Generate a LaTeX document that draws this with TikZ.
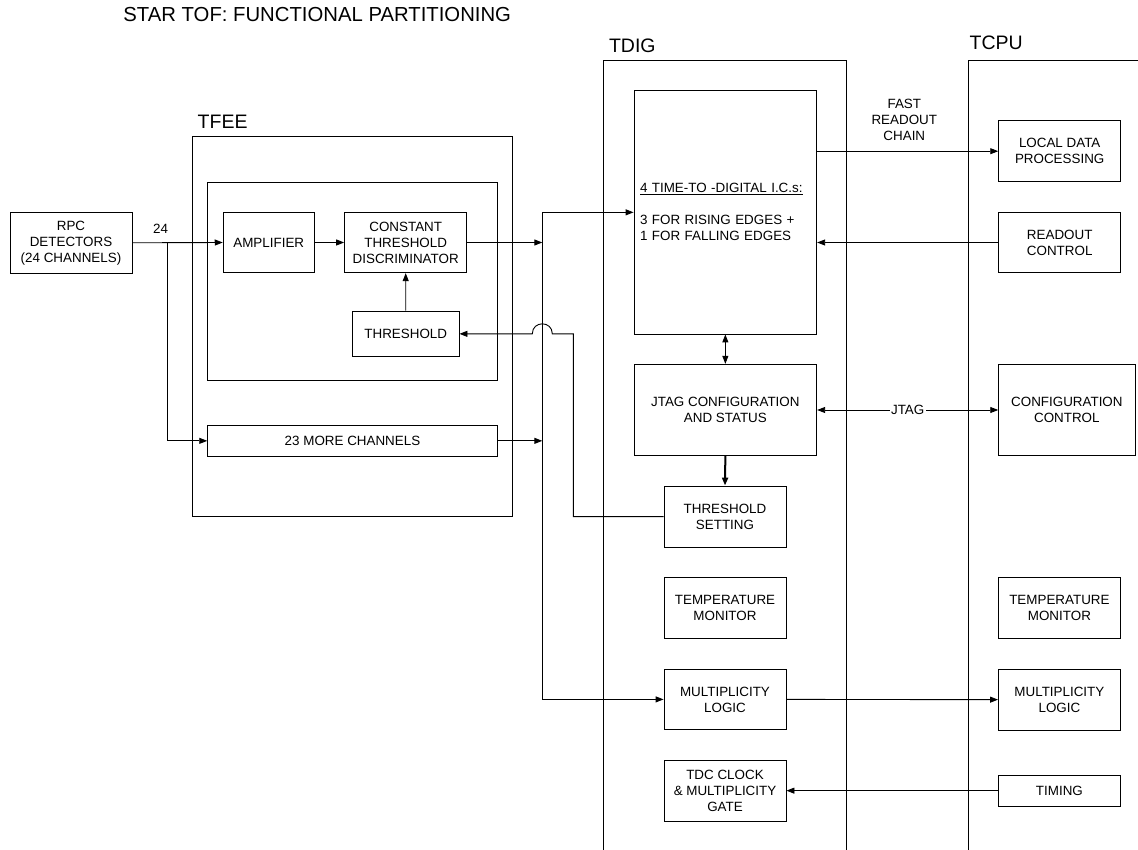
\documentclass[tikz,border=0pt]{standalone}
\usepackage{fontspec}
\setmainfont{Liberation Sans}
\usetikzlibrary{arrows.meta}
\begin{document}
\begin{tikzpicture}[x=1pt,y=-1pt,
  box/.style={draw, line width=0.9pt, inner sep=0pt, align=center, font=\fontsize{13.4}{16}\selectfont},
  conn/.style={line width=0.9pt},
  arr/.style={conn, -{Triangle[length=8pt,width=6pt]}},
  darr/.style={conn, {Triangle[length=8pt,width=6pt]}-{Triangle[length=8pt,width=6pt]}},
  grp/.style={draw, line width=0.9pt},
  big/.style={font=\fontsize{19.5}{22}\selectfont, anchor=west, inner sep=0pt},
  txt/.style={font=\fontsize{13.4}{16}\selectfont, align=center, inner sep=0pt},
]
\useasboundingbox (0,0) rectangle (1138,850);

% titles
\node[big, font=\fontsize{20.3}{23}\selectfont] (title) at (123.2,15) {STAR TOF: FUNCTIONAL PARTITIONING};
\node[big] (tfeelbl) at (197.5,122) {TFEE};
\node[big] (tdiglbl) at (608.8,46) {TDIG};
\node[big] (tcpulbl) at (969.5,42.5) {TCPU};

% group frames
\draw[grp] (192.7,136) rectangle (512.3,516.7);
\draw[grp] (207.9,182) rectangle (497.2,380);
\draw[grp] (603.5,851) -- (603.5,60) -- (846.3,60) -- (846.3,851);
\draw[grp] (968.3,851) -- (968.3,60) -- (1139,60);

% TFEE side
\node[box, minimum width=122pt, minimum height=61pt] (rpc) at (71,242.8) {RPC\\DETECTORS\\(24 CHANNELS)};
\node[box, minimum width=91.1pt, minimum height=60.4pt] (amp) at (268.75,242.5) {AMPLIFIER};
\node[box, minimum width=122.2pt, minimum height=60.4pt] (ctd) at (405.7,242.5) {CONSTANT\\THRESHOLD\\DISCRIMINATOR};
\node[box, minimum width=106.5pt, minimum height=45.7pt] (thr) at (405.75,333.85) {THRESHOLD};
\node[box, minimum width=289.6pt, minimum height=30.3pt] (more) at (352.5,440.85) {23 MORE CHANNELS};

% TDIG
\node[box, minimum width=182.7pt, minimum height=243.3pt, text width=170.7pt, inner xsep=6pt, align=left] (tdc) at (725.35,212.35)
  {\underline{4 TIME-TO -DIGITAL I.C.s:}\\[16pt]3 FOR RISING EDGES +\\1 FOR FALLING EDGES};
\node[box, minimum width=182.7pt, minimum height=91.4pt] (jtag) at (725.35,410) {JTAG CONFIGURATION\\AND STATUS};
\node[box, minimum width=122pt, minimum height=61.3pt] (ts) at (725,516.65) {THRESHOLD\\SETTING};
\node[box, minimum width=122pt, minimum height=61pt] (tmd) at (725,607.8) {TEMPERATURE\\MONITOR};
\node[box, minimum width=122pt, minimum height=60.2pt] (mld) at (725,699.4) {MULTIPLICITY\\LOGIC};
\node[box, minimum width=122pt, minimum height=60.3pt] (clk) at (725,790.85) {TDC CLOCK\\\& MULTIPLICITY\\GATE};

% TCPU
\node[box, minimum width=122pt, minimum height=61pt] (ldp) at (1059.7,151.2) {LOCAL DATA\\PROCESSING};
\node[box, minimum width=122pt, minimum height=60.4pt] (rc) at (1059.7,242.5) {READOUT\\CONTROL};
\node[box, minimum width=136.3pt, minimum height=91.4pt] (cc) at (1066.85,410) {CONFIGURATION\\CONTROL};
\node[box, minimum width=121.8pt, minimum height=60.8pt] (tmc) at (1059.4,607.9) {TEMPERATURE\\MONITOR};
\node[box, minimum width=121.8pt, minimum height=60.7pt] (mlc) at (1059.4,699.65) {MULTIPLICITY\\LOGIC};
\node[box, minimum width=121.8pt, minimum height=30.7pt] (tim) at (1059.4,790.65) {TIMING};

% coordinates
\coordinate (br) at (167,242.8);
\coordinate (bustop) at (542.3,212.35);
\coordinate (busbot) at (542.3,699.4);
\coordinate (tk) at (573.3,333.85);
\coordinate (bumpR) at (552.3,333.85);
\coordinate (bumpL) at (532.3,333.85);

% connectors TFEE
\draw[arr] (rpc.east) -- (amp.west);
\node[txt] (n24) at (160.7,229) {24};
\draw[arr] (br) |- (more.west);
\draw[arr] (amp.east) -- (ctd.west);
\draw[arr] (thr.north) -- (ctd.south);
\draw[arr] (ctd.east) -- (ctd.east -| bustop);
\draw[arr] (more.east) -- (more.east -| bustop);

% bus
\draw[conn] (bustop) -- (busbot);
\draw[arr] (bustop) -- (tdc.west);
\draw[arr] (busbot) -- (mld.west);

% threshold setting line with hop
\draw[arr] (ts.west) -| (tk) -- (bumpR) .. controls (552.3,320.5) and (532.3,320.5) .. (bumpL) -- (thr.east);

% TDIG / TCPU
\draw[arr] (tdc.east |- ldp.west) -- (ldp.west);
\node[txt] (frc) at (904.3,120.2) {FAST\\READOUT\\CHAIN};
\draw[arr] (rc.west) -- (rc.west -| tdc.east);
\draw[darr] (tdc.south) -- (jtag.north);
\draw[darr] (jtag.east) -- node[txt, fill=white, inner xsep=1.5pt, inner ysep=1pt] (jl) {JTAG} (cc.west);
\draw[line width=2pt, -{Triangle[length=8pt,width=6pt]}] (jtag.south) -- (ts.north);
\draw[arr] (mld.east) -- (mlc.west);
\draw[arr] (tim.west) -- (tim.west -| clk.east);
\end{tikzpicture}
\end{document}
